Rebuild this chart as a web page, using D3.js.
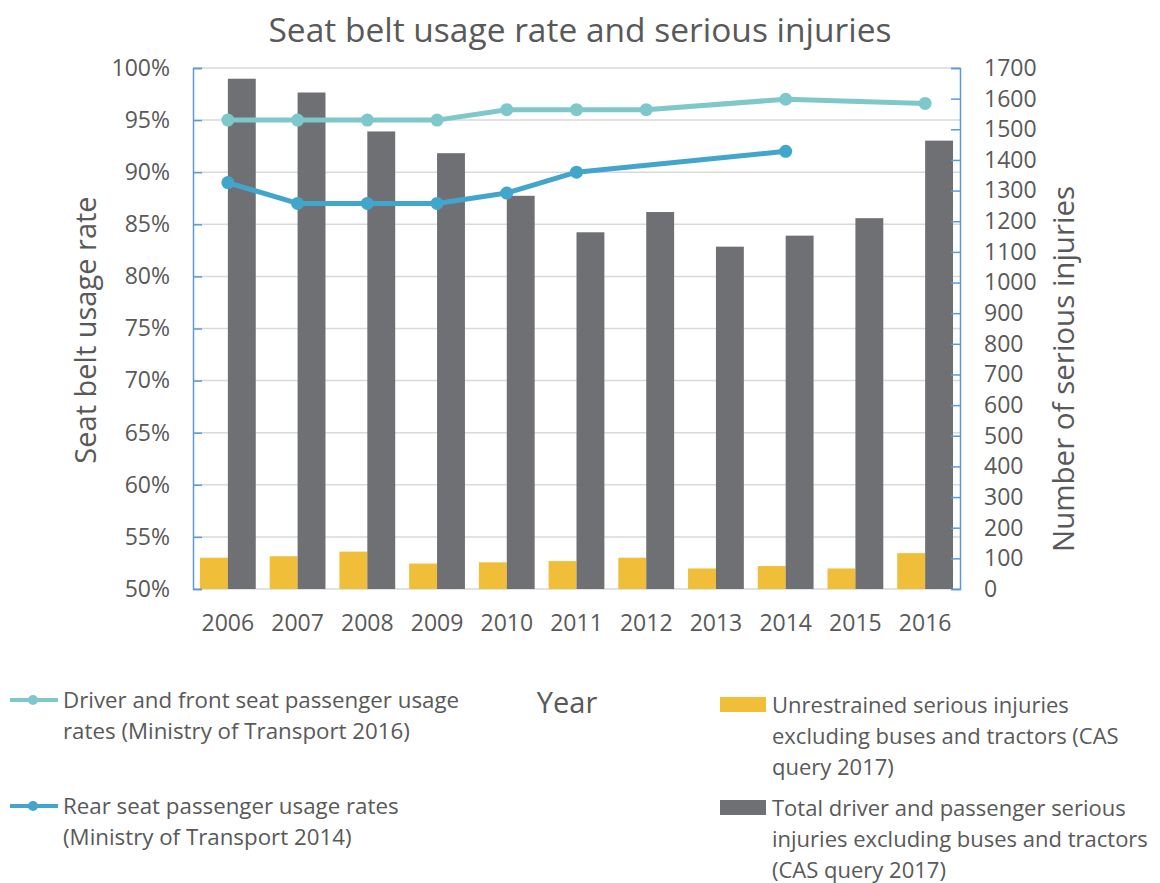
<html lang="en">
<head>
  <meta charset="UTF-8">
  <title>Seat belt usage rate and serious injuries</title>
  <style>
    body { margin: 0; background: #fff; }
    text { font-family: "Open Sans", sans-serif; fill: #595959; }
  </style>
</head>
<body>
  <div class="svg-target"></div>
  <script src="https://d3js.org/d3.v7.min.js"></script>
  <script>
    // data
    const years = ["2006", "2007", "2008", "2009", "2010", "2011", "2012", "2013", "2014", "2015", "2016"];
    const frontRate = [95, 95, 95, 95, 96, 96, 96, null, 97, null, 96.6];
    const rearRate = [89, 87, 87, 87, 88, 90, null, null, 92, null, null];
    const unrestrained = [102, 107, 122, 83, 87, 91, 102, 67, 75, 67, 117];
    const totalInjuries = [1665, 1620, 1493, 1422, 1283, 1164, 1230, 1117, 1153, 1210, 1463];
    const pctTicks = [50, 55, 60, 65, 70, 75, 80, 85, 90, 95, 100];
    const countTicks = d3.range(0, 1701, 100);

    const w = 1160;
    const h = 883;
    const plotLeft = 193, plotRight = 960, plotTop = 68, plotBottom = 589;

    const colFront = "#7ec8cc";
    const colRear = "#42a5cb";
    const colYellow = "#f0be38";
    const colGray = "#6f7074";
    const axisBlue = "#5b9bd5";

    const svg = d3.select("div.svg-target")
      .append("svg")
      .attr("width", w)
      .attr("height", h);

    const x0 = d3.scaleBand()
      .domain(years)
      .range([plotLeft, plotRight])
      .paddingInner(0.2)
      .paddingOuter(0.1);
    const x1 = d3.scaleBand()
      .domain(["unrestrained", "total"])
      .range([0, x0.bandwidth()]);
    const yPct = d3.scaleLinear().domain([50, 100]).range([plotBottom, plotTop]);
    const yCount = d3.scaleLinear().domain([0, 1700]).range([plotBottom, plotTop]);

    // gridlines
    svg.append("g")
      .selectAll("line")
      .data(pctTicks)
      .enter()
      .append("line")
      .attr("x1", plotLeft)
      .attr("x2", plotRight)
      .attr("y1", (d) => yPct(d))
      .attr("y2", (d) => yPct(d))
      .attr("stroke", "#d9d9d9")
      .attr("stroke-width", 1.5);

    // bars
    const groups = svg.append("g")
      .selectAll("g")
      .data(years)
      .enter()
      .append("g")
      .attr("transform", (d) => "translate(" + x0(d) + ",0)");
    groups.append("rect")
      .attr("x", x1("unrestrained"))
      .attr("y", (d, i) => yCount(unrestrained[i]))
      .attr("width", x1.bandwidth())
      .attr("height", (d, i) => plotBottom - yCount(unrestrained[i]))
      .attr("fill", colYellow);
    groups.append("rect")
      .attr("x", x1("total"))
      .attr("y", (d, i) => yCount(totalInjuries[i]))
      .attr("width", x1.bandwidth())
      .attr("height", (d, i) => plotBottom - yCount(totalInjuries[i]))
      .attr("fill", colGray);

    // left axis
    const yAxisL = d3.axisLeft(yPct)
      .tickValues(pctTicks)
      .tickSize(-9)
      .tickPadding(20)
      .tickFormat((d) => d + "%");
    const gL = svg.append("g")
      .attr("transform", "translate(" + plotLeft + ",0)")
      .call(yAxisL);
    // right axis
    const yAxisR = d3.axisRight(yCount)
      .tickValues(countTicks)
      .tickSize(-9)
      .tickPadding(24)
      .tickFormat(d3.format("d"));
    const gR = svg.append("g")
      .attr("transform", "translate(" + plotRight + ",0)")
      .call(yAxisR);
    [gL, gR].forEach((g) => {
      g.select(".domain").attr("stroke", axisBlue).attr("stroke-width", 1.5);
      g.selectAll(".tick line").attr("stroke", axisBlue).attr("stroke-width", 1.5);
      g.selectAll(".tick text").attr("font-size", 23).attr("font-family", "Open Sans").attr("fill", "#595959");
    });
    gR.selectAll(".tick text").attr("dx", 0);
    gL.selectAll(".tick text").attr("dx", -3);

    // x axis labels
    const xAxis = d3.axisBottom(x0).tickSize(0).tickPadding(26);
    const gX = svg.append("g")
      .attr("transform", "translate(0," + plotBottom + ")")
      .call(xAxis);
    gX.select(".domain").remove();
    gX.selectAll(".tick text").attr("font-size", 23).attr("font-family", "Open Sans").attr("fill", "#595959");

    // lines
    const cx = (d) => x0(d.year) + x0.bandwidth() / 2;
    const drawLine = (values, color) => {
      const pts = years.map((y, i) => ({ year: y, v: values[i] })).filter((d) => d.v !== null);
      const line = d3.line().x(cx).y((d) => yPct(d.v));
      svg.append("path")
        .datum(pts)
        .attr("d", line)
        .attr("fill", "none")
        .attr("stroke", color)
        .attr("stroke-width", 5)
        .attr("stroke-linejoin", "round");
      svg.append("g")
        .selectAll("circle")
        .data(pts)
        .enter()
        .append("circle")
        .attr("cx", cx)
        .attr("cy", (d) => yPct(d.v))
        .attr("r", 6.5)
        .attr("fill", color);
    };
    drawLine(frontRate, colFront);
    drawLine(rearRate, colRear);

    // titles
    svg.append("text")
      .attr("x", 580)
      .attr("y", 30)
      .attr("dy", "0.35em")
      .attr("text-anchor", "middle")
      .attr("font-size", 33.5)
      .text("Seat belt usage rate and serious injuries");
    svg.append("text")
      .attr("transform", "translate(86,330) rotate(-90)")
      .attr("dy", "0.35em")
      .attr("text-anchor", "middle")
      .attr("font-size", 29)
      .text("Seat belt usage rate");
    svg.append("text")
      .attr("transform", "translate(1064,369) rotate(-90)")
      .attr("dy", "0.35em")
      .attr("text-anchor", "middle")
      .attr("font-size", 29.5)
      .text("Number of serious injuries");
    svg.append("text")
      .attr("x", 567)
      .attr("y", 703)
      .attr("dy", "0.35em")
      .attr("text-anchor", "middle")
      .attr("font-size", 29)
      .text("Year");

    // legend
    const lineLegend = [
      { color: colFront, y: 700, lines: ["Driver and front seat passenger usage", "rates (Ministry of Transport 2016)"] },
      { color: colRear, y: 806, lines: ["Rear seat passenger usage rates", "(Ministry of Transport 2014)"] }
    ];
    lineLegend.forEach((d) => {
      svg.append("line")
        .attr("x1", 10).attr("x2", 58)
        .attr("y1", d.y).attr("y2", d.y)
        .attr("stroke", d.color).attr("stroke-width", 4);
      svg.append("circle")
        .attr("cx", 33).attr("cy", d.y).attr("r", 5)
        .attr("fill", d.color);
      d.lines.forEach((t, i) => {
        svg.append("text")
          .attr("x", 63)
          .attr("y", d.y + i * 31.5)
          .attr("dy", "0.35em")
          .attr("font-size", 22.3)
          .text(t);
      });
    });
    const barLegend = [
      { color: colYellow, y: 705, lines: ["Unrestrained serious injuries", "excluding buses and tractors (CAS", "query 2017)"] },
      { color: colGray, y: 808, lines: ["Total driver and passenger serious", "injuries excluding buses and tractors", "(CAS query 2017)"] }
    ];
    barLegend.forEach((d) => {
      svg.append("rect")
        .attr("x", 720).attr("y", d.y - 8)
        .attr("width", 46).attr("height", 15)
        .attr("fill", d.color);
      d.lines.forEach((t, i) => {
        svg.append("text")
          .attr("x", 772)
          .attr("y", d.y + i * 31)
          .attr("dy", "0.35em")
          .attr("font-size", 22)
          .text(t);
      });
    });
  </script>
</body>
</html>
